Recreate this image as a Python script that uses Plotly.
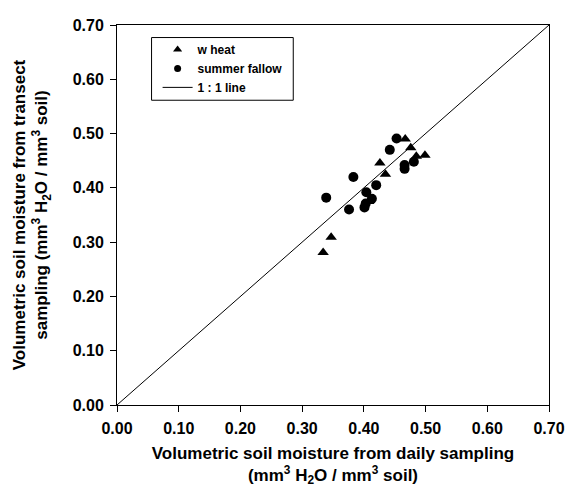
import plotly.graph_objects as go

# Data
wheat_x = [0.467, 0.476, 0.485, 0.499, 0.426, 0.435, 0.408, 0.347, 0.334]
wheat_y = [0.490, 0.474, 0.458, 0.460, 0.446, 0.425, 0.375, 0.309, 0.281]

fallow_x = [0.453, 0.442, 0.383, 0.339, 0.420, 0.404, 0.413, 0.401, 0.403, 0.376, 0.466, 0.466, 0.481]
fallow_y = [0.491, 0.470, 0.420, 0.382, 0.405, 0.392, 0.380, 0.364, 0.371, 0.360, 0.442, 0.435, 0.448]

line_x = [0.0, 0.7]
line_y = [0.0, 0.7]

tick_vals = [0.0, 0.1, 0.2, 0.3, 0.4, 0.5, 0.6, 0.7]
tick_text = ["0.00", "0.10", "0.20", "0.30", "0.40", "0.50", "0.60", "0.70"]

FONT = "Arial, Liberation Sans, sans-serif"
TICKFONT = dict(family=FONT, size=16, color="black", weight="bold")
TITLEFONT = dict(family=FONT, size=17, color="black", weight="bold")

fig = go.Figure()
fig.add_trace(go.Scatter(x=wheat_x, y=wheat_y, mode="markers", name="w heat", showlegend=False,
                         legendgroup="w", marker=dict(symbol="triangle-up", size=10, color="black")))
fig.add_trace(go.Scatter(x=fallow_x, y=fallow_y, mode="markers", name="summer fallow", showlegend=False,
                         legendgroup="f", marker=dict(symbol="circle", size=10, color="black")))
# legend-only entries with the smaller symbols seen in the reference legend
fig.add_trace(go.Scatter(x=[None], y=[None], mode="markers", name="w heat", legendgroup="w",
                         marker=dict(symbol="triangle-up", size=8, color="black")))
fig.add_trace(go.Scatter(x=[None], y=[None], mode="markers", name="summer fallow", legendgroup="f",
                         marker=dict(symbol="circle", size=7, color="black")))
fig.add_trace(go.Scatter(x=line_x, y=line_y, mode="lines", name="1 : 1 line",
                         line=dict(color="black", width=1)))

axis_common = dict(
    range=[0, 0.7], tickvals=tick_vals, ticktext=tick_text,
    showline=True, linecolor="black", linewidth=1, mirror=True,
    ticks="outside", ticklen=6, tickcolor="black", showgrid=False, zeroline=False,
    tickfont=TICKFONT,
)

# Page body has an 8px default margin; figure sized/margined to compensate.
fig.update_layout(
    width=566, height=482,
    margin=dict(l=109, r=21, t=9, b=79),
    paper_bgcolor="white", plot_bgcolor="white",
    font=dict(family=FONT, color="black"),
    showlegend=True,
    legend=dict(x=0.094, y=0.974, xanchor="left", yanchor="top",
                bgcolor="rgba(0,0,0,0)", borderwidth=0,
                font=dict(family=FONT, size=12, color="black", weight="bold"),
                itemwidth=30, tracegroupgap=0),
    shapes=[dict(type="rect", xref="paper", yref="paper",
                 x0=0.080, x1=0.408, y0=0.802, y1=0.967,
                 line=dict(color="black", width=1), fillcolor="white", layer="below")],
    xaxis=dict(**axis_common, ticklabelstandoff=3,
               title=dict(text="Volumetric soil moisture from daily sampling<br>(mm<sup>3</sup> H<sub>2</sub>O / mm<sup>3</sup> soil)",
                          font=TITLEFONT, standoff=10)),
    yaxis=dict(**axis_common, ticklabelstandoff=3,
               title=dict(text="Volumetric soil moisture from transect<br>sampling (mm<sup>3</sup> H<sub>2</sub>O / mm<sup>3</sup> soil)",
                          font=TITLEFONT, standoff=20)),
)

fig.write_html("out.html")
